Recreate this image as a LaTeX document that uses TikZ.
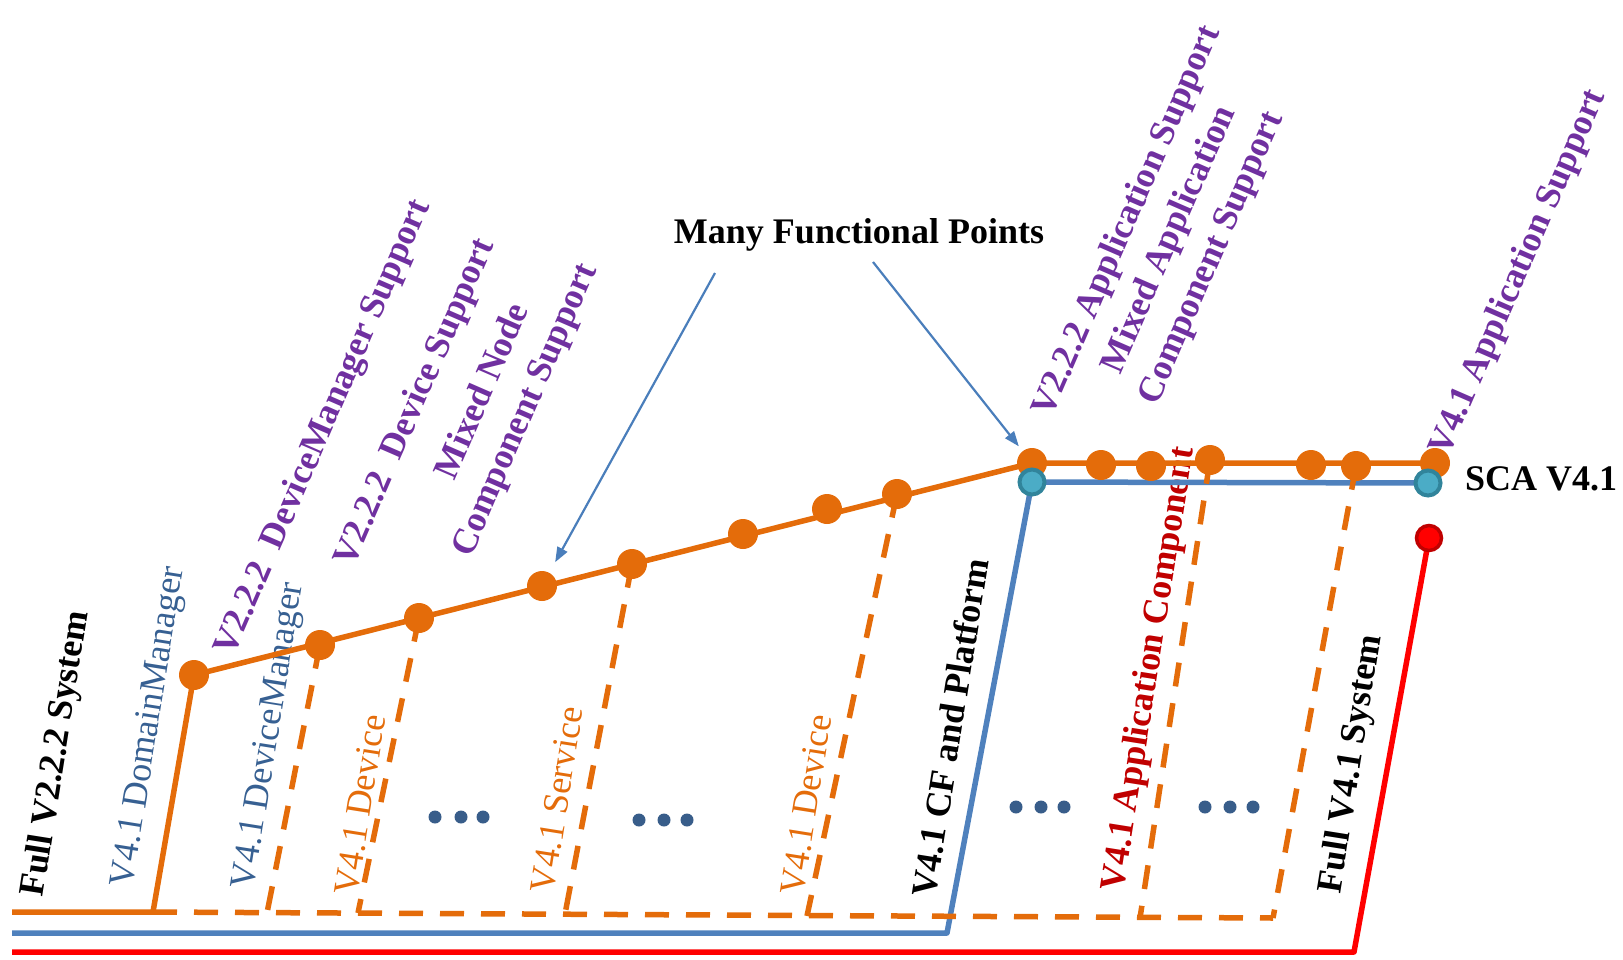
\documentclass[tikz,border=0pt]{standalone}
\usepackage{fontspec}
\setmainfont{Liberation Serif}
\usetikzlibrary{arrows.meta}
\definecolor{org}{HTML}{E46C0A}
\definecolor{lblue}{HTML}{4F81BD}
\definecolor{tblue}{HTML}{376092}
\definecolor{purp}{HTML}{7030A0}
\definecolor{dred}{HTML}{C00000}
\definecolor{edot}{HTML}{385D8A}
\definecolor{cyf}{HTML}{4BACC6}
\definecolor{cyd}{HTML}{31849B}
\definecolor{arrc}{HTML}{4A7EBB}
\tikzset{
  lbl/.style={inner sep=0pt, font=\fontsize{36}{46}\selectfont, align=center},
  blbl/.style={inner sep=0pt, font=\fontsize{36}{46}\selectfont\bfseries, align=center},
  odot/.style={circle, fill=org, minimum size=30pt, inner sep=0pt},
  cdot/.style={circle, fill=cyf, draw=cyd, line width=4pt, minimum size=25pt, inner sep=0pt},
  rdot/.style={circle, fill=red, draw=dred, line width=3.5pt, minimum size=25pt, inner sep=0pt},
  edotst/.style={circle, fill=edot, minimum size=13pt, inner sep=0pt},
  oline/.style={draw=org, line width=5.5pt, line join=round},
  odash/.style={draw=org, line width=5.5pt, dash pattern=on 24pt off 17pt},
  bline/.style={draw=lblue, line width=5.5pt, line join=round},
  rline/.style={draw=red, line width=5.5pt, line join=round},
  arrline/.style={draw=arrc, line width=2.2pt, -{Triangle[length=15pt,width=11pt]}}
}
\begin{document}
\begin{tikzpicture}[x=1pt,y=-1pt]
\useasboundingbox (0,0) rectangle (1623,959);

% ---- labels ----
\node[blbl, rotate=81] (tfull2) at (57,754) {Full V2.2.2 System};
\node[lbl, rotate=81, text=tblue] (tdm) at (150,727) {V4.1 DomainManager};
\node[lbl, rotate=81, text=tblue] (tdevm) at (270,736) {V4.1 DeviceManager};
\node[lbl, rotate=81, text=org] (tdev1) at (360,805) {V4.1 Device};
\node[lbl, rotate=81, text=org] (tserv) at (557,800) {V4.1 Service};
\node[lbl, rotate=81, text=org] (tdev2) at (806,805) {V4.1 Device};
\node[blbl, rotate=81] (tcf) at (950,728) {V4.1 CF and Platform};
\node[blbl, rotate=81, text=dred] (tapp) at (1150,669) {V4.1 Application Component};
\node[blbl, rotate=81] (tfull4) at (1352,764) {Full V4.1 System};

\node[blbl, rotate=66.5, text=purp] (pdm) at (324,428) {V2.2.2\ \ DeviceManager Support};
\node[blbl, rotate=66.5, text=purp] (pdev) at (416,403) {V2.2.2\ \ Device Support};
\node[blbl, rotate=66.5, text=purp] (pmix) at (505,401) {Mixed Node\\Component Support};
\node[blbl, rotate=66.5, text=purp] (papp) at (1170,240) {V2.2.2 Application Support\\Mixed Application\\Component Support};
\node[blbl, rotate=66.5, text=purp] (p41) at (1519,273) {V4.1 Application Support};

\node[blbl, anchor=base] (many) at (859,243) {Many Functional Points};
\node[blbl, anchor=base west] (sca) at (1465,490) {SCA V4.1};

% ---- coordinates ----
\coordinate (d1) at (194,675);
\coordinate (d2) at (320,645);
\coordinate (d3) at (419,618);
\coordinate (d4) at (542,586);
\coordinate (d5) at (632,564);
\coordinate (d6) at (743,534);
\coordinate (d7) at (827,509);
\coordinate (d8) at (897,494);
\coordinate (d9) at (1032,463);
\coordinate (d10) at (1101,465);
\coordinate (d11) at (1151,466);
\coordinate (d12) at (1210,460);
\coordinate (d13) at (1311,465);
\coordinate (d14) at (1356,466);
\coordinate (d15) at (1435,463);
\coordinate (c1) at (1032,482);
\coordinate (c2) at (1428,483);
\coordinate (r1) at (1429,538);

\coordinate (oS) at (12,912);
\coordinate (oK) at (153,912);
\coordinate (oE) at (1273,918);
\coordinate (b2) at (267,913);
\coordinate (b3) at (358,913);
\coordinate (b5) at (565,914);
\coordinate (b8) at (807,916);
\coordinate (b12) at (1140,918);
\coordinate (b14) at (1273,918);
\coordinate (bS) at (12,933);
\coordinate (bK) at (947,933);
\coordinate (rS) at (12,952);
\coordinate (rK) at (1354,952);

% ---- lines ----
\draw[rline] (rS) -- (rK) -- (r1);
\draw[bline] (bS) -- (bK) -- (c1) -- (c2);
\draw[odash] (oK) -- (oE);
\draw[odash] (d2) -- (b2);
\draw[odash] (d3) -- (b3);
\draw[odash] (d5) -- (b5);
\draw[odash] (d8) -- (b8);
\draw[odash] (d12) -- (b12);
\draw[odash] (d14) -- (b14);
\draw[oline] (oS) -- (oK) -- (d1) -- (d9) -- (d15);

% ---- dots ----
\foreach \i in {1,...,15} { \node[odot] (n\i) at (d\i) {}; }
\node[cdot] (nc1) at (c1) {};
\node[cdot] (nc2) at (c2) {};
\node[rdot] (nr1) at (r1) {};

\foreach \n/\x/\y in {e1/435/817, e2/461/817, e3/483/817,
                      e4/639/820, e5/664/820, e6/687/820,
                      e7/1016/807, e8/1041/807, e9/1064/807,
                      e10/1205/807, e11/1230/807, e12/1253/807}
  { \node[edotst] (\n) at (\x,\y) {}; }

% ---- arrows ----
\coordinate (a1) at (715,273);
\coordinate (a2) at (873,262);
\draw[arrline, shorten >=12pt] (a1) -- (n4);
\draw[arrline, shorten >=6pt] (a2) -- (n9);
\end{tikzpicture}
\end{document}
